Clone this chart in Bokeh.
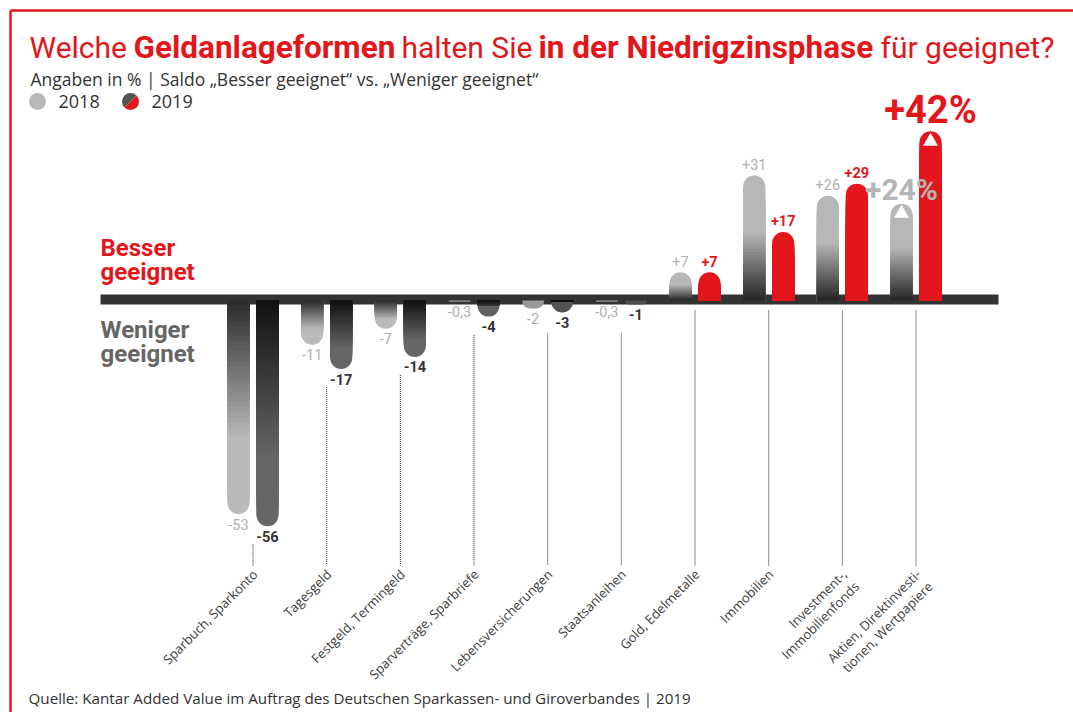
import math
from bokeh.plotting import figure
from bokeh.models import Range1d, ColumnDataSource
from bokeh.core.properties import value
from bokeh.embed import file_html
from bokeh.resources import INLINE

# ---------------- data ----------------
categories = [
    "Sparbuch, Sparkonto",
    "Tagesgeld",
    "Festgeld, Termingeld",
    "Sparverträge, Sparbriefe",
    "Lebensversicherungen",
    "Staatsanleihen",
    "Gold, Edelmetalle",
    "Immobilien",
    "Investment-,\nImmobilienfonds",
    "Aktien, Direktinvesti-\ntionen, Wertpapiere",
]
values_2018 = [-53, -11, -7, -0.3, -2, -0.3, 7, 31, 26, 24]
values_2019 = [-56, -17, -14, -4, -3, -1, 7, 17, 29, 42]
years = ["2018", "2019"]
highlight_index = 9

title_normal = ["Welche", "halten Sie", "für geeignet?"]
title_bold = ["Geldanlageformen", "in der Niedrigzinsphase"]
subtitle = "Angaben in % | Saldo \u201eBesser geeignet\u201c vs. \u201eWeniger geeignet\u201c"
source_text = "Quelle: Kantar Added Value im Auftrag des Deutschen Sparkassen- und Giroverbandes | 2019"
better_label = ["Besser", "geeignet"]
worse_label = ["Weniger", "geeignet"]

# ---------------- geometry ----------------
W, H = 1073, 712
X0, DX = 252.5, 73.67      # px of first category centre, px per category
Y0, SY = 300.0, 4.03       # px of zero line, px per percentage point


def sx(px):
    return (px - X0) / DX


def sy(py):
    return (Y0 - py) / SY


RED = "#e3161b"
COND = value("Roboto")
SANS = value("Open Sans")

p = figure(width=W, height=H, x_range=Range1d(sx(0), sx(W)), y_range=Range1d(sy(H), sy(0)),
           x_axis_type=None, y_axis_type=None, toolbar_location=None, output_backend="svg",
           min_border=0, outline_line_color=None,
           background_fill_color="white", border_fill_color="white")


def h2r(h):
    return tuple(int(h[i:i + 2], 16) for i in (1, 3, 5))


def mix(c0, c1, t):
    a, b = h2r(c0), h2r(c1)
    return "#%02x%02x%02x" % tuple(int(round(a[j] + (b[j] - a[j]) * t)) for j in range(3))


STYLE = {
    ("2018", -1): ("#2a2a2a", "#bababa", 0.65),
    ("2019", -1): ("#101010", "#666666", 0.7),
    ("2018", 1): ("#252525", "#b7b7b7", 0.55),
    ("2019", 1): (RED, RED, 1.0),
}

BW = 22 / DX
OFF = 14.5 / DX
R = 11 / SY
N = 40

cap_pos = dict(x=[], top=[], bottom=[], color=[])
cap_neg = dict(x=[], top=[], bottom=[], color=[])
seg = dict(x=[], top=[], bottom=[], color=[])
for year, vals, off in ((years[0], values_2018, -OFF), (years[1], values_2019, OFF)):
    for i, v in enumerate(vals):
        s = 1 if v > 0 else -1
        c0, c1, span = STYLE[(year, s)]
        A = abs(v)
        L = max(A - R, 0)
        tip_frac = (A - min(A, R) / 2) / A
        cap = cap_pos if s > 0 else cap_neg
        cap["x"].append(i + off)
        cap["top"].append(max(v, 0))
        cap["bottom"].append(min(v, 0))
        cap["color"].append(mix(c0, c1, min(1, tip_frac / span)))
        if L > 0:
            for k in range(N, 0, -1):
                end = L * k / N
                frac = (L * (k - 0.5) / N) / A
                seg["x"].append(i + off)
                seg["top"].append(max(s * end, 0))
                seg["bottom"].append(min(s * end, 0))
                seg["color"].append(mix(c0, c1, min(1, frac / span)))

# red frame
p.segment(x0=[sx(10), sx(10)], y0=[sy(10), sy(10)], x1=[sx(W), sx(10)], y1=[sy(10), sy(H)],
          line_color=RED, line_width=2.5)

# zero bar
p.quad(left=sx(100), right=sx(998), bottom=sy(304), top=sy(294), fill_color="#333333", line_color=None)

# bars
p.vbar(x="x", top="top", bottom="bottom", width=BW, fill_color="color", line_color=None,
       border_radius=(11, 11, 0, 0), source=ColumnDataSource(cap_pos))
p.vbar(x="x", top="top", bottom="bottom", width=BW, fill_color="color", line_color=None,
       border_radius=(0, 0, 11, 11), source=ColumnDataSource(cap_neg))
p.vbar(x="x", top="top", bottom="bottom", width=BW, fill_color="color", line_color=None,
       source=ColumnDataSource(seg))

# white triangles in highlighted bars
hi = highlight_index
p.scatter(x=[hi - OFF, hi + OFF], y=[values_2018[hi] - 2.4, values_2019[hi] - 2.5],
          marker="triangle", size=15, fill_color="white", line_color=None)

# dotted guide lines
gx, g0, g1 = [], [], []
for i in range(len(categories)):
    vmin = min(values_2018[i], values_2019[i])
    start = min(vmin - 4.5, -8.2) if vmin < 0 else -2.5
    gx.append(i)
    g0.append(start)
    g1.append(sy(565))
p.segment(x0=gx, y0=g0, x1=gx, y1=g1, line_color="#1a1a1a", line_width=1, line_dash="1 1")


def fmt(v, pct=False):
    t = ("+" if v > 0 else "") + ("%g" % v).replace(".", ",")
    return t + ("%" if pct else "")


# value labels
for year, vals, off in ((years[0], values_2018, -OFF), (years[1], values_2019, OFF)):
    xs, ys, ts, cs = [], [], [], []
    for i, v in enumerate(vals):
        if i == hi:
            continue
        xs.append(i + off)
        ys.append(v + 2.8 if v > 0 else v - 2.5)
        ts.append(fmt(v))
        if year == "2018":
            cs.append("#b0b0b0")
        else:
            cs.append(RED if v > 0 else "#333333")
    p.text(x=xs, y=ys, text=ts, text_color=cs, text_align="center", text_baseline="middle",
           text_font=COND, text_font_size="14.5px",
           text_font_style="normal" if year == "2018" else "bold")

p.text(x=[hi - OFF], y=[values_2018[hi] + 3.5], text=[fmt(values_2018[hi], True)],
       text_color="#b5b5b5", text_align="center", text_baseline="middle",
       text_font=COND, text_font_size="30px", text_font_style="bold")
p.text(x=[hi + OFF], y=[values_2019[hi] + 5.2], text=[fmt(values_2019[hi], True)],
       text_color=RED, text_align="center", text_baseline="middle",
       text_font=COND, text_font_size="38px", text_font_style="bold")

# category labels
p.text(x=[i - 0.058 for i in range(len(categories))], y=sy(565), text=categories,
       angle=math.pi / 4, text_align="right", text_baseline="top",
       text_font=SANS, text_font_size="13px", text_color="#3c3c3c", text_line_height=0.95)

# Besser / Weniger geeignet
p.text(x=sx(100), y=[sy(247), sy(271)], text=better_label, text_color=RED,
       text_font=COND, text_font_size="24px", text_font_style="bold", text_baseline="middle")
p.text(x=sx(100), y=[sy(329), sy(353)], text=worse_label, text_color="#666666",
       text_font=COND, text_font_size="24px", text_font_style="bold", text_baseline="middle")

# title
p.text(x=[sx(29), sx(401), sx(880)], y=sy(47), text=title_normal, text_color=RED,
       text_font=COND, text_font_size="30px", text_baseline="middle")
p.text(x=[sx(133), sx(538)], y=sy(47), text=title_bold, text_color=RED,
       text_font=COND, text_font_size="31.5px", text_font_style="bold", text_baseline="middle")
p.text(x=sx(30), y=sy(78), text=[subtitle], text_color="#333333",
       text_font=SANS, text_font_size="17.5px", text_baseline="middle")

# legend
p.scatter(x=sx(37), y=sy(101), size=17, fill_color="#b8b8b8", line_color=None)
p.wedge(x=sx(130), y=sy(101), radius=8.5, radius_units="screen",
        start_angle=math.pi / 4, end_angle=5 * math.pi / 4, fill_color="#555555", line_color=None)
p.wedge(x=sx(130), y=sy(101), radius=8.5, radius_units="screen",
        start_angle=-3 * math.pi / 4, end_angle=math.pi / 4, fill_color=RED, line_color=None)
p.text(x=[sx(58), sx(151)], y=sy(101), text=years, text_color="#333333",
       text_font=SANS, text_font_size="18px", text_baseline="middle")

# source
p.text(x=sx(28), y=sy(697), text=[source_text], text_color="#333333",
       text_font=SANS, text_font_size="15.2px", text_baseline="middle")

open("out.html", "w").write(file_html(p, INLINE))
